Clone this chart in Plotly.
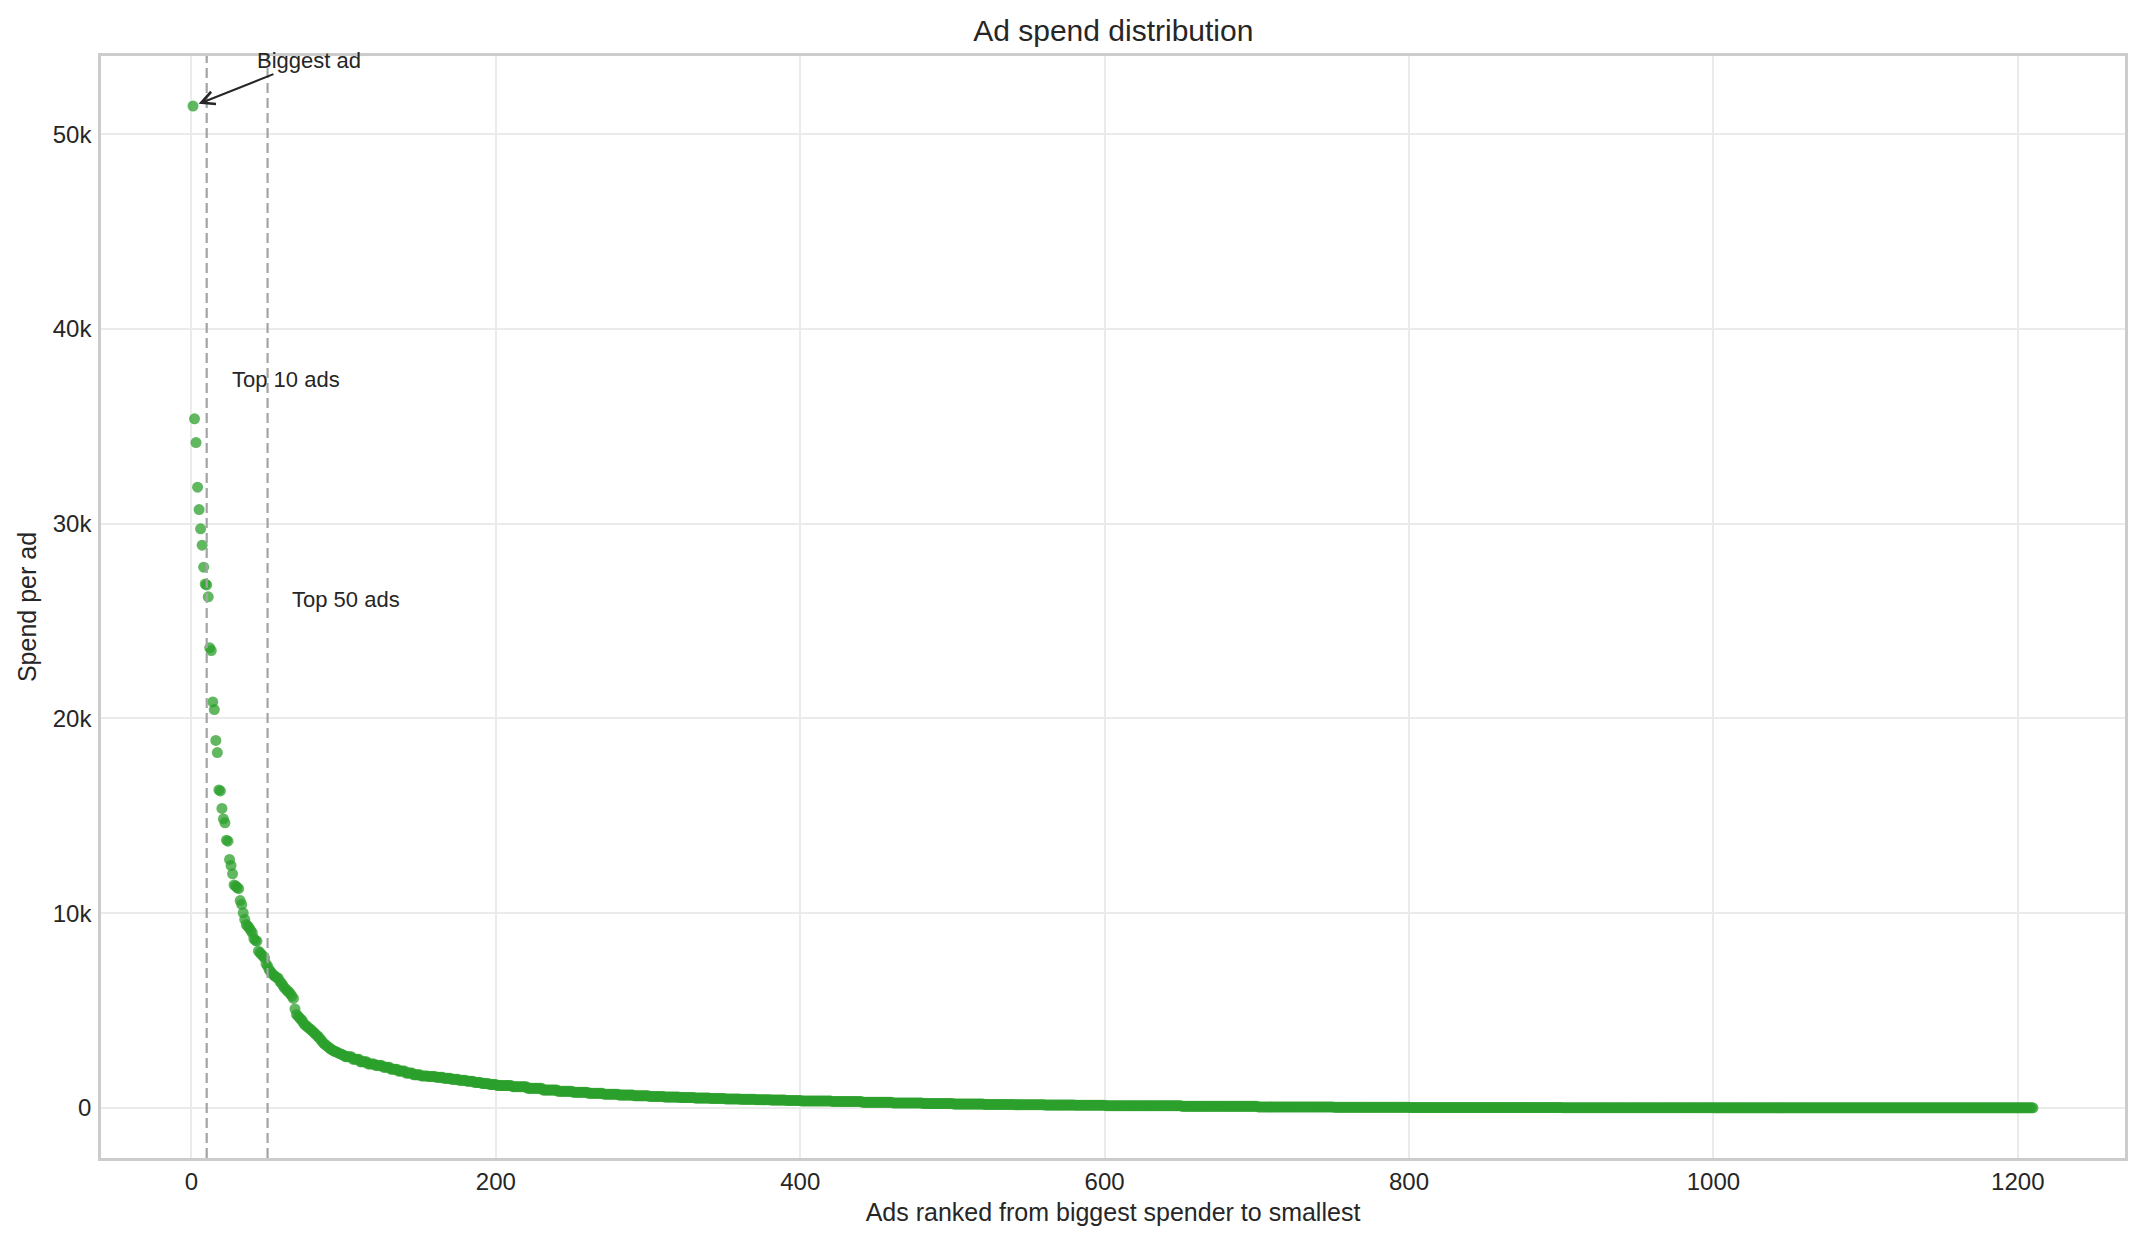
import plotly.graph_objects as go

# ---- data ----
head_spend = [
    51450, 35390, 34170, 31880, 30730, 29740, 28900, 27770, 26900, 26860,
    26250, 23630, 23490, 20850, 20460, 18870, 18250, 16330, 16280, 15380,
    14840, 14640, 13750, 13700, 12760, 12450, 12020, 11450, 11400, 11320,
    11260, 10650, 10450, 10020, 9680, 9420, 9330, 9250, 9100, 8990,
    8700, 8600, 8560, 8050, 7980, 7880, 7800, 7700, 7400, 7280,
    7100, 7000, 6900, 6820, 6750, 6700, 6660, 6500, 6420, 6300,
    6180, 6100, 6000, 5960, 5850, 5740, 5620, 5080, 4800, 4710,
    4620, 4540, 4450, 4300, 4250, 4180, 4110, 4050, 3980, 3900,
    3830, 3750, 3680, 3600, 3500, 3400, 3300, 3250, 3180, 3120,
    3060, 3000, 2950, 2910, 2880, 2850, 2800, 2770, 2740, 2710,
]

# long tail: spend level and how many consecutive ads sit at that level
tail_levels = [
    2630, 2500, 2370, 2260, 2180, 2090, 1990, 1890, 1790, 1700,
    1640, 1610, 1570, 1520, 1470, 1420, 1370, 1310, 1250, 1200,
    1150, 1090, 1010, 920, 850, 800, 750, 705, 660, 620,
    590, 560, 530, 505, 485, 460, 440, 420, 400, 385,
    360, 330, 290, 255, 225, 200, 180, 165, 150, 140,
    115, 80, 50, 30, 18, 10, 5, 2,
]
tail_counts = [
    5, 5, 5, 5, 5, 5, 5, 5, 5, 5,
    5, 5, 5, 5, 5, 5, 5, 5, 5, 5,
    10, 10, 10, 10, 10, 10, 10, 10, 10, 10,
    10, 10, 10, 10, 10, 10, 10, 10, 10, 10,
    20, 20, 20, 20, 20, 20, 20, 20, 20, 20,
    50, 50, 50, 50, 100, 100, 100, 110,
]

x_ticks = [0, 200, 400, 600, 800, 1000, 1200]
y_ticks = [0, 10000, 20000, 30000, 40000, 50000]
y_tick_text = ["0", "10k", "20k", "30k", "40k", "50k"]

spend = list(head_spend)
for lvl, cnt in zip(tail_levels, tail_counts):
    spend.extend([lvl] * cnt)
rank = list(range(1, len(spend) + 1))

TXT = "#262626"
FONT = "Liberation Sans, Arial, sans-serif"

fig = go.Figure()
fig.add_trace(go.Scatter(
    x=rank, y=spend, mode="markers",
    marker=dict(color="#2ca02c", size=11, opacity=0.75, line=dict(width=0)),
    hoverinfo="x+y", showlegend=False,
))

n = len(spend)
xmin = 1 - 0.05 * (n - 1)
xmax = n + 0.05 * (n - 1)
ymax_d = max(spend)
ymin = -0.05 * ymax_d
ymax = ymax_d * 1.05

for xv in (10, 50):
    fig.add_shape(type="line", x0=xv, x1=xv, y0=0, y1=1, xref="x", yref="paper",
                  line=dict(color="#a4a4a4", width=2.2, dash="10px,5px"), layer="above")

fig.add_annotation(x=1, y=spend[0], ax=77, ay=53810, axref="x", ayref="y",
                   xref="x", yref="y", text="Biggest ad", showarrow=True,
                   arrowhead=5, arrowsize=1.3, arrowwidth=2, arrowcolor=TXT,
                   standoff=6, font=dict(size=22, color=TXT, family=FONT))
fig.add_annotation(x=25, y=37430, xref="x", yref="y", text="Top 10 ads",
                   showarrow=False, xanchor="left", yanchor="middle",
                   font=dict(size=22, color=TXT, family=FONT))
fig.add_annotation(x=65, y=26130, xref="x", yref="y", text="Top 50 ads",
                   showarrow=False, xanchor="left", yanchor="middle",
                   font=dict(size=22, color=TXT, family=FONT))

fig.update_layout(
    width=2141, height=1242,
    margin=dict(l=101, r=16, t=56, b=84),
    paper_bgcolor="white", plot_bgcolor="white",
    font=dict(family=FONT, color=TXT, size=24),
    title=dict(text="Ad spend distribution", x=0.52, xanchor="center",
               y=1 - 30 / 1242, yref="container", yanchor="middle",
               font=dict(size=30, color=TXT, family=FONT)),
)
fig.update_xaxes(
    range=[xmin, xmax], tickvals=x_ticks, showgrid=True, gridcolor="#ebebeb",
    gridwidth=2, zeroline=False, showline=True, linecolor="#cccccc",
    linewidth=2.5, mirror=True, ticks="", ticklabelstandoff=0,
    tickfont=dict(size=24, color=TXT),
    title=dict(text="Ads ranked from biggest spender to smallest",
               font=dict(size=25, color=TXT), standoff=10),
)
fig.update_yaxes(
    range=[ymin, ymax], tickvals=y_ticks, ticktext=y_tick_text, showgrid=True,
    gridcolor="#ebebeb", gridwidth=2, zeroline=False, showline=True,
    linecolor="#cccccc", linewidth=2.5, mirror=True, ticks="",
    ticklabelstandoff=2, tickfont=dict(size=24, color=TXT),
    title=dict(text="Spend per ad", font=dict(size=25, color=TXT), standoff=9),
)

fig.write_html("out.html", config={"displayModeBar": False},
               post_script="document.body.style.margin='0';document.body.style.overflow='hidden';")
